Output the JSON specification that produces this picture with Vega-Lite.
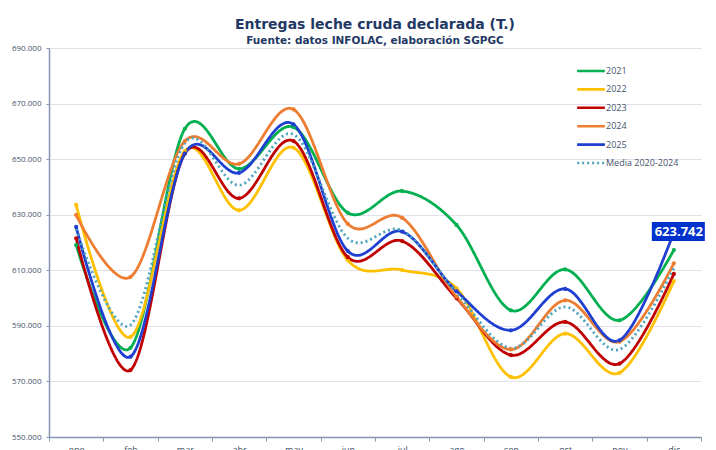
{
  "$schema": "https://vega.github.io/schema/vega-lite/v6.json",
  "width": 652,
  "height": 389,
  "padding": {"left": 11, "top": 17, "right": 0, "bottom": 0},
  "background": "white",
  "title": {
    "text": "Entregas leche cruda declarada (T.)",
    "subtitle": "Fuente: datos INFOLAC, elaboración SGPGC",
    "font": "DejaVu Sans",
    "fontSize": 14,
    "fontWeight": "bold",
    "color": "#1f3864",
    "subtitleFont": "DejaVu Sans",
    "subtitleFontSize": 10.5,
    "subtitleFontWeight": "bold",
    "subtitleColor": "#1f3864",
    "subtitlePadding": 4,
    "offset": -2,
    "anchor": "middle"
  },
  "config": {
    "locale": {"number": {"decimal": ",", "thousands": ".", "grouping": [3], "currency": ["", " €"]}},
    "view": {"stroke": null},
    "font": "Open Sans"
  },
  "data": {
    "values": [
      {"mes": "ene", "serie": "2021", "valor": 619100}, {"mes": "feb", "serie": "2021", "valor": 582100}, {"mes": "mar", "serie": "2021", "valor": 660900}, {"mes": "abr", "serie": "2021", "valor": 646500}, {"mes": "may", "serie": "2021", "valor": 661500}, {"mes": "jun", "serie": "2021", "valor": 630700}, {"mes": "jul", "serie": "2021", "valor": 638500}, {"mes": "ago", "serie": "2021", "valor": 626300}, {"mes": "sep", "serie": "2021", "valor": 595600}, {"mes": "oct", "serie": "2021", "valor": 610300}, {"mes": "nov", "serie": "2021", "valor": 592000}, {"mes": "dic", "serie": "2021", "valor": 617300},
      {"mes": "ene", "serie": "2022", "valor": 633500}, {"mes": "feb", "serie": "2022", "valor": 586000}, {"mes": "mar", "serie": "2022", "valor": 652900}, {"mes": "abr", "serie": "2022", "valor": 631600}, {"mes": "may", "serie": "2022", "valor": 654100}, {"mes": "jun", "serie": "2022", "valor": 613600}, {"mes": "jul", "serie": "2022", "valor": 610100}, {"mes": "ago", "serie": "2022", "valor": 603500}, {"mes": "sep", "serie": "2022", "valor": 571600}, {"mes": "oct", "serie": "2022", "valor": 587200}, {"mes": "nov", "serie": "2022", "valor": 573100}, {"mes": "dic", "serie": "2022", "valor": 606100},
      {"mes": "ene", "serie": "2023", "valor": 621500}, {"mes": "feb", "serie": "2023", "valor": 574100}, {"mes": "mar", "serie": "2023", "valor": 652000}, {"mes": "abr", "serie": "2023", "valor": 635900}, {"mes": "may", "serie": "2023", "valor": 656500}, {"mes": "jun", "serie": "2023", "valor": 614700}, {"mes": "jul", "serie": "2023", "valor": 620500}, {"mes": "ago", "serie": "2023", "valor": 600000}, {"mes": "sep", "serie": "2023", "valor": 579500}, {"mes": "oct", "serie": "2023", "valor": 591400}, {"mes": "nov", "serie": "2023", "valor": 576400}, {"mes": "dic", "serie": "2023", "valor": 608700},
      {"mes": "ene", "serie": "2024", "valor": 629900}, {"mes": "feb", "serie": "2024", "valor": 607600}, {"mes": "mar", "serie": "2024", "valor": 656500}, {"mes": "abr", "serie": "2024", "valor": 648300}, {"mes": "may", "serie": "2024", "valor": 667900}, {"mes": "jun", "serie": "2024", "valor": 626700}, {"mes": "jul", "serie": "2024", "valor": 628900}, {"mes": "ago", "serie": "2024", "valor": 600500}, {"mes": "sep", "serie": "2024", "valor": 581500}, {"mes": "oct", "serie": "2024", "valor": 599200}, {"mes": "nov", "serie": "2024", "valor": 584300}, {"mes": "dic", "serie": "2024", "valor": 612500},
      {"mes": "ene", "serie": "2025", "valor": 625600}, {"mes": "feb", "serie": "2025", "valor": 578900}, {"mes": "mar", "serie": "2025", "valor": 652000}, {"mes": "abr", "serie": "2025", "valor": 645100}, {"mes": "may", "serie": "2025", "valor": 662500}, {"mes": "jun", "serie": "2025", "valor": 616900}, {"mes": "jul", "serie": "2025", "valor": 623900}, {"mes": "ago", "serie": "2025", "valor": 602500}, {"mes": "sep", "serie": "2025", "valor": 588400}, {"mes": "oct", "serie": "2025", "valor": 603300}, {"mes": "nov", "serie": "2025", "valor": 584800}, {"mes": "dic", "serie": "2025", "valor": 623742},
      {"mes": "ene", "serie": "Media 2020-2024", "valor": 624800}, {"mes": "feb", "serie": "Media 2020-2024", "valor": 590300}, {"mes": "mar", "serie": "Media 2020-2024", "valor": 655800}, {"mes": "abr", "serie": "Media 2020-2024", "valor": 640600}, {"mes": "may", "serie": "Media 2020-2024", "valor": 658900}, {"mes": "jun", "serie": "Media 2020-2024", "valor": 621500}, {"mes": "jul", "serie": "Media 2020-2024", "valor": 624300}, {"mes": "ago", "serie": "Media 2020-2024", "valor": 602000}, {"mes": "sep", "serie": "Media 2020-2024", "valor": 582000}, {"mes": "oct", "serie": "Media 2020-2024", "valor": 596800}, {"mes": "nov", "serie": "Media 2020-2024", "valor": 581500}, {"mes": "dic", "serie": "Media 2020-2024", "valor": 610800}
    ]
  },
  "encoding": {
    "x": {
      "field": "mes",
      "type": "ordinal",
      "sort": ["ene", "feb", "mar", "abr", "may", "jun", "jul", "ago", "sep", "oct", "nov", "dic"],
      "scale": {"type": "band", "paddingInner": 0, "paddingOuter": 0},
      "bandPosition": 0.5,
      "axis": {
        "title": null,
        "labelAngle": 0,
        "tickBand": "extent",
        "tickSize": 4,
        "tickColor": "#8497b0",
        "domainColor": "#8497b0",
        "domainWidth": 1.5,
        "labelColor": "#44546a",
        "labelFontSize": 9,
        "labelPadding": 4,
        "grid": false
      }
    },
    "y": {
      "field": "valor",
      "type": "quantitative",
      "scale": {"domain": [550000, 690000], "nice": false, "zero": false},
      "axis": {
        "title": null,
        "values": [550000, 570000, 590000, 610000, 630000, 650000, 670000, 690000],
        "format": ",.0f",
        "tickSize": 3,
        "tickColor": "#8497b0",
        "domainColor": "#8497b0",
        "domainWidth": 1.5,
        "labelColor": "#44546a",
        "labelFontSize": 8,
        "labelPadding": 5,
        "gridColor": "#e1e1ec",
        "gridWidth": 1
      }
    },
    "color": {
      "field": "serie",
      "type": "nominal",
      "scale": {
        "domain": ["2021", "2022", "2023", "2024", "2025", "Media 2020-2024"],
        "range": ["#00b050", "#ffc000", "#c00000", "#ed7d31", "#1f3fd0", "#4aa3bf"]
      },
      "legend": {
        "title": null,
        "orient": "none",
        "legendX": 532,
        "legendY": 13,
        "labelColor": "#44546a",
        "labelFontSize": 9,
        "symbolType": "M-1.6,0L1.6,0",
        "symbolSize": 300,
        "symbolStrokeWidth": 2.6,
        "rowPadding": 2.4,
        "labelOffset": 5
      }
    }
  },
  "layer": [
    {
      "mark": {"type": "line", "interpolate": "cardinal", "strokeWidth": 2.8},
      "encoding": {
        "strokeDash": {
          "field": "serie",
          "type": "nominal",
          "scale": {
            "domain": ["2021", "2022", "2023", "2024", "2025", "Media 2020-2024"],
            "range": [[1, 0], [1, 0], [1, 0], [1, 0], [1, 0], [2, 3]]
          },
          "legend": null
        }
      }
    },
    {
      "transform": [{"filter": "datum.serie !== 'Media 2020-2024'"}],
      "mark": {"type": "point", "filled": true, "size": 18, "opacity": 1},
      "encoding": {}
    },
    {
      "transform": [{"filter": "datum.serie === '2025' && datum.mes === 'dic'"}],
      "mark": {"type": "point", "shape": "M-4.4,-2L6.2,-2L6.2,1.8L-4.4,1.8Z", "size": 100, "filled": true, "opacity": 1, "strokeWidth": 0},
      "encoding": {"color": {"value": "#0033cc"}}
    },
    {
      "transform": [{"filter": "datum.serie === '2025' && datum.mes === 'dic'"}],
      "mark": {"type": "text", "fontWeight": "bold", "fontSize": 13, "dx": 5, "dy": 0, "align": "center", "baseline": "middle"},
      "encoding": {"text": {"field": "valor", "type": "quantitative", "format": ",.0f"}, "color": {"value": "white"}}
    }
  ]
}
